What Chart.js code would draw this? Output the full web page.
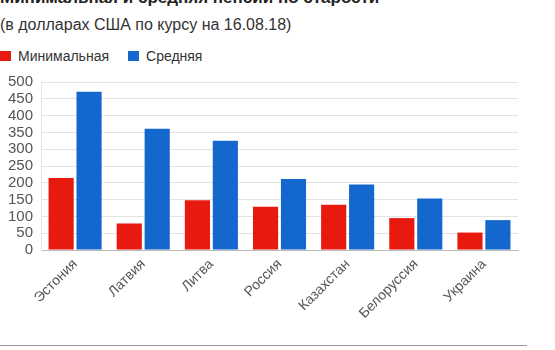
<!DOCTYPE html>
<html lang="ru">
<head>
    <meta charset="UTF-8">
    <title>Пенсии по старости</title>
    <script src="https://cdn.jsdelivr.net/npm/chart.js"></script>
    <style>
        html, body { margin: 0; padding: 0; background: #fff; overflow: hidden; }
        body { width: 555px; height: 350px; position: relative; font-family: Arial, "Liberation Sans", sans-serif; }
        .title { position: absolute; left: 0; top: -12px; font-size: 17px; font-weight: bold; color: #222; white-space: nowrap; }
        .subtitle { position: absolute; left: 0; top: 16px; font-size: 16px; color: #333; white-space: nowrap; }
        .legend { position: absolute; left: 0; top: 48px; font-size: 14px; color: #333; display: flex; }
        .legend span.item { display: flex; align-items: center; margin-right: 19px; }
        .legend span.box { width: 11px; height: 10px; margin-right: 7px; display: inline-block; }
        .chart-wrap { position: absolute; left: 0; top: 0; width: 555px; height: 350px; }
        .rule { position: absolute; left: 0; top: 345px; width: 527px; height: 1px; background: #999; }
    </style>
</head>
<body>
    <div class="title">Минимальная и средняя пенсии по старости</div>
    <div class="subtitle">(в долларах США по курсу на 16.08.18)</div>
    <div class="legend" id="legend"></div>
    <div class="chart-wrap"><canvas id="barChart"></canvas></div>
    <div class="rule"></div>

    <script>
        // data
        const countries = ['Эстония', 'Латвия', 'Литва', 'Россия', 'Казахстан', 'Белоруссия', 'Украина'];
        const minimalPension = [214, 79, 148, 129, 135, 95, 52];
        const averagePension = [471, 361, 325, 211, 195, 153, 89];
        const seriesNames = ['Минимальная', 'Средняя'];
        const seriesColors = ['#e8190f', '#1467cc'];
        const yTicks = [0, 50, 100, 150, 200, 250, 300, 350, 400, 450, 500];

        // html legend
        const legendEl = document.getElementById('legend');
        seriesNames.forEach(function(name, i) {
            const item = document.createElement('span');
            item.className = 'item';
            const box = document.createElement('span');
            box.className = 'box';
            box.style.background = seriesColors[i];
            item.appendChild(box);
            item.appendChild(document.createTextNode(name));
            legendEl.appendChild(item);
        });

        const ctx = document.getElementById('barChart').getContext('2d');
        new Chart(ctx, {
            type: 'bar',
            data: {
                labels: countries,
                datasets: [
                    { label: seriesNames[0], data: minimalPension, backgroundColor: seriesColors[0] },
                    { label: seriesNames[1], data: averagePension, backgroundColor: seriesColors[1] }
                ]
            },
            options: {
                responsive: true,
                maintainAspectRatio: false,
                animation: false,
                datasets: {
                    bar: { barPercentage: 0.9, categoryPercentage: 0.82 }
                },
                layout: {
                    padding: { top: 82, right: 37, left: 0, bottom: 22 }
                },
                scales: {
                    x: {
                        grid: { display: false, drawTicks: false },
                        border: { color: '#bbb' },
                        ticks: {
                            color: '#555',
                            font: { family: 'Arial', size: 14 },
                            minRotation: 45,
                            maxRotation: 45,
                            padding: 6
                        }
                    },
                    y: {
                        min: 0,
                        max: 500,
                        afterBuildTicks: function(axis) {
                            axis.ticks = yTicks.map(function(v) { return { value: v }; });
                        },
                        grid: { color: '#e4e4e4', drawTicks: false },
                        border: { color: '#e4e4e4' },
                        ticks: {
                            autoSkip: false,
                            color: '#555',
                            font: { family: 'Arial', size: 15 },
                            padding: 8
                        }
                    }
                },
                plugins: {
                    legend: { display: false },
                    tooltip: { enabled: false }
                }
            }
        });
    </script>
</body>
</html>
